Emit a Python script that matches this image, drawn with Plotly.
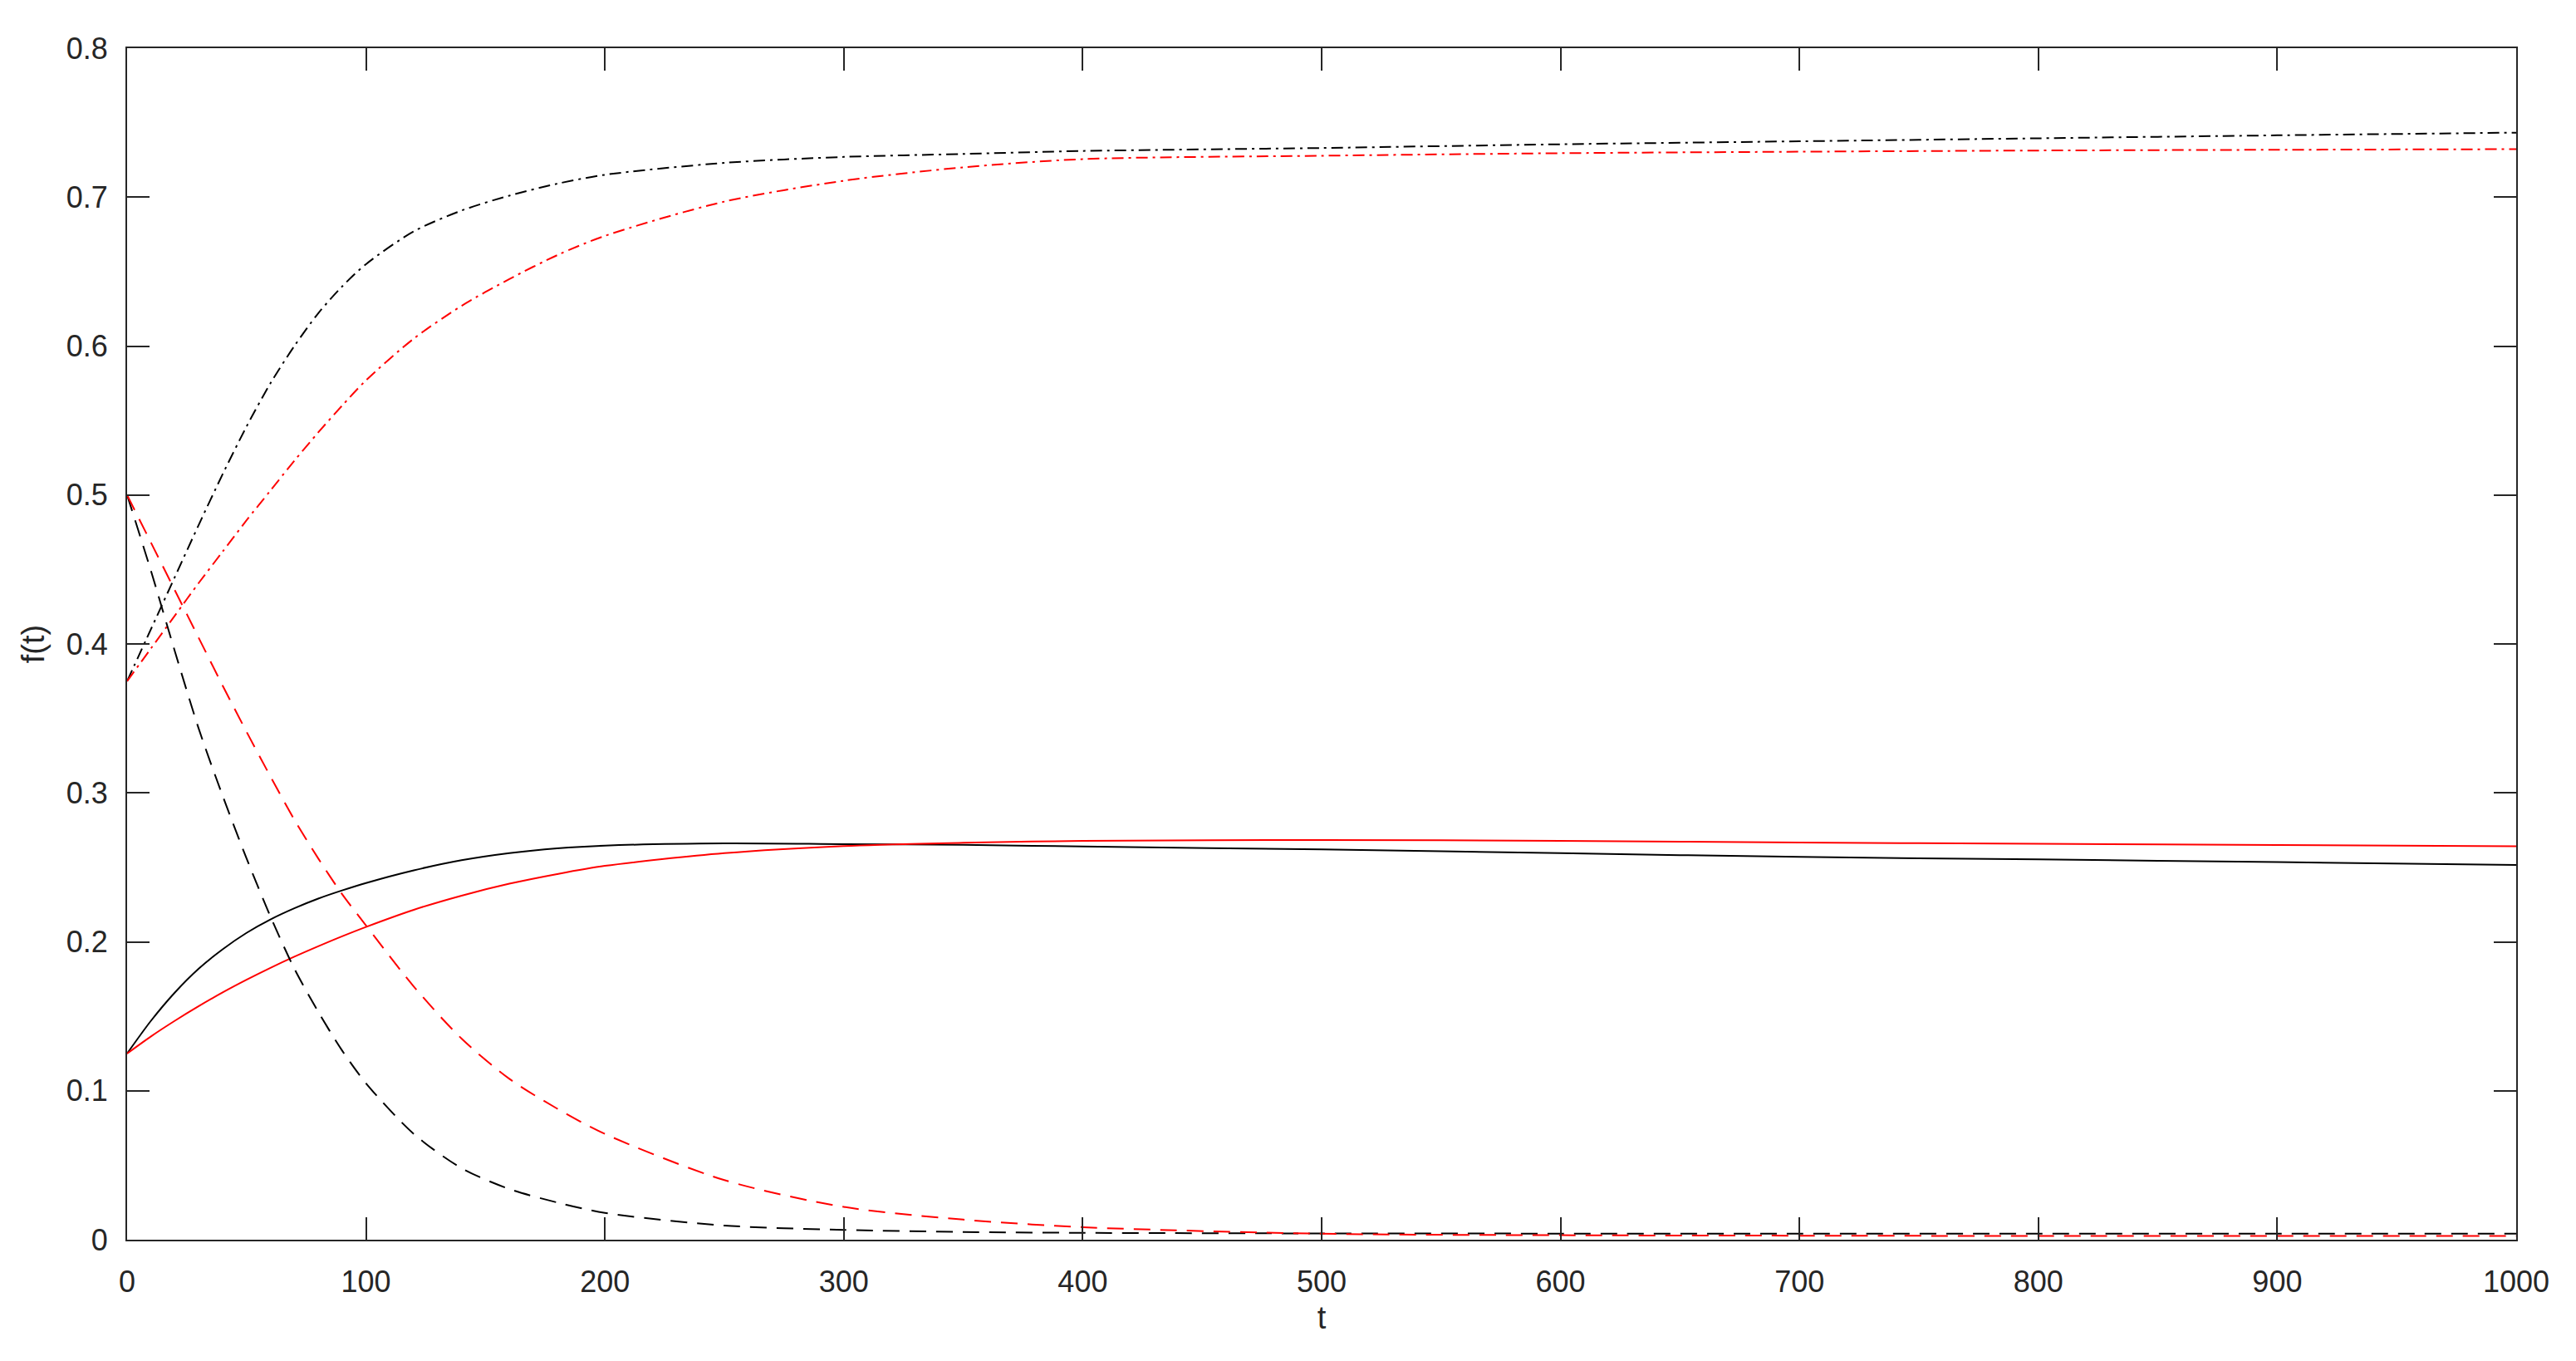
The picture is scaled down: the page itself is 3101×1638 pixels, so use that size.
import plotly.graph_objects as go

# time grid
t = [0, 10, 20, 30, 40, 50, 60, 70, 80, 90, 100, 120, 140, 160, 180, 200,
     250, 300, 350, 400, 500, 600, 700, 800, 900, 1000]

# dash-dot curves (upper pair)
black_dashdot = [0.375, 0.410, 0.445, 0.480, 0.514, 0.546, 0.575, 0.600, 0.622, 0.640,
                 0.655, 0.677, 0.691, 0.701, 0.709, 0.715, 0.723, 0.727, 0.729, 0.731,
                 0.733, 0.7355, 0.7375, 0.7395, 0.7415, 0.7433]
red_dashdot = [0.375, 0.397, 0.419, 0.441, 0.462, 0.483, 0.503, 0.523, 0.542, 0.560,
               0.577, 0.605, 0.627, 0.645, 0.661, 0.674, 0.697, 0.711, 0.720, 0.7255,
               0.7278, 0.7295, 0.7305, 0.7313, 0.7318, 0.7322]

# solid curves (middle pair)
black_solid = [0.125, 0.147, 0.166, 0.182, 0.195, 0.206, 0.215, 0.2225, 0.229, 0.2345,
               0.2395, 0.248, 0.2548, 0.2596, 0.2628, 0.2646, 0.2661, 0.2656, 0.2651, 0.264,
               0.262, 0.2595, 0.257, 0.2553, 0.2535, 0.2516]
red_solid = [0.125, 0.1365, 0.147, 0.1568, 0.166, 0.1745, 0.1825, 0.190, 0.197, 0.2037,
             0.210, 0.2215, 0.231, 0.239, 0.2455, 0.251, 0.2595, 0.2643, 0.2665, 0.2678,
             0.2684, 0.2678, 0.2667, 0.2658, 0.265, 0.2642]

# dashed curves (decaying pair)
black_dashed = [0.500, 0.449, 0.395, 0.343, 0.298, 0.256, 0.217, 0.182, 0.153, 0.127,
                0.105, 0.071, 0.048, 0.034, 0.025, 0.018, 0.0095, 0.0066, 0.0052, 0.0046,
                0.0042, 0.0041, 0.004, 0.004, 0.004, 0.004]
red_dashed = [0.500, 0.468, 0.436, 0.404, 0.372, 0.341, 0.311, 0.282, 0.256, 0.232,
              0.211, 0.170, 0.135, 0.108, 0.088, 0.071, 0.040, 0.022, 0.0135, 0.0084,
              0.004, 0.003, 0.0027, 0.0025, 0.0025, 0.0025]

x_ticks = [0, 100, 200, 300, 400, 500, 600, 700, 800, 900, 1000]
y_ticks = [0, 0.1, 0.2, 0.3, 0.4, 0.5, 0.6, 0.7, 0.8]

DASHED = "20px,12px"
DASHDOT = "14px,6px,3px,6px"
AXIS_COLOR = "#262626"
FONT = "Liberation Sans, Arial, Helvetica, sans-serif"

series = [
    (black_dashdot, "#000000", DASHDOT),
    (red_dashdot, "#ff0000", DASHDOT),
    (black_solid, "#000000", "solid"),
    (red_solid, "#ff0000", "solid"),
    (black_dashed, "#000000", DASHED),
    (red_dashed, "#ff0000", DASHED),
]

fig = go.Figure()
for values, color, dash in series:
    fig.add_trace(
        go.Scatter(
            x=t,
            y=values,
            mode="lines",
            line={"color": color, "width": 2, "dash": dash, "shape": "spline", "smoothing": 0.8},
            showlegend=False,
        )
    )

axis_common = dict(
    showline=True,
    linecolor=AXIS_COLOR,
    linewidth=2,
    mirror="ticks",
    ticks="inside",
    ticklen=27,
    tickwidth=1.5,
    tickcolor=AXIS_COLOR,
    showgrid=False,
    zeroline=False,
    tickfont={"size": 36, "color": AXIS_COLOR, "family": FONT},
)

fig.update_xaxes(
    range=[0, 1000],
    tickvals=x_ticks,
    ticklabelstandoff=18,
    title={"text": "t", "font": {"size": 38, "color": AXIS_COLOR, "family": FONT}, "standoff": 10},
    **axis_common,
)
fig.update_yaxes(
    range=[0, 0.8],
    tickvals=y_ticks,
    ticklabelstandoff=14,
    title={"text": "f(t)", "font": {"size": 38, "color": AXIS_COLOR, "family": FONT}, "standoff": 14},
    **axis_common,
)

fig.update_layout(
    width=3101,
    height=1638,
    paper_bgcolor="white",
    plot_bgcolor="white",
    margin={"l": 145, "r": 80, "t": 50, "b": 154},
    font={"family": FONT, "color": AXIS_COLOR},
    showlegend=False,
)

fig.write_html("out.html")
